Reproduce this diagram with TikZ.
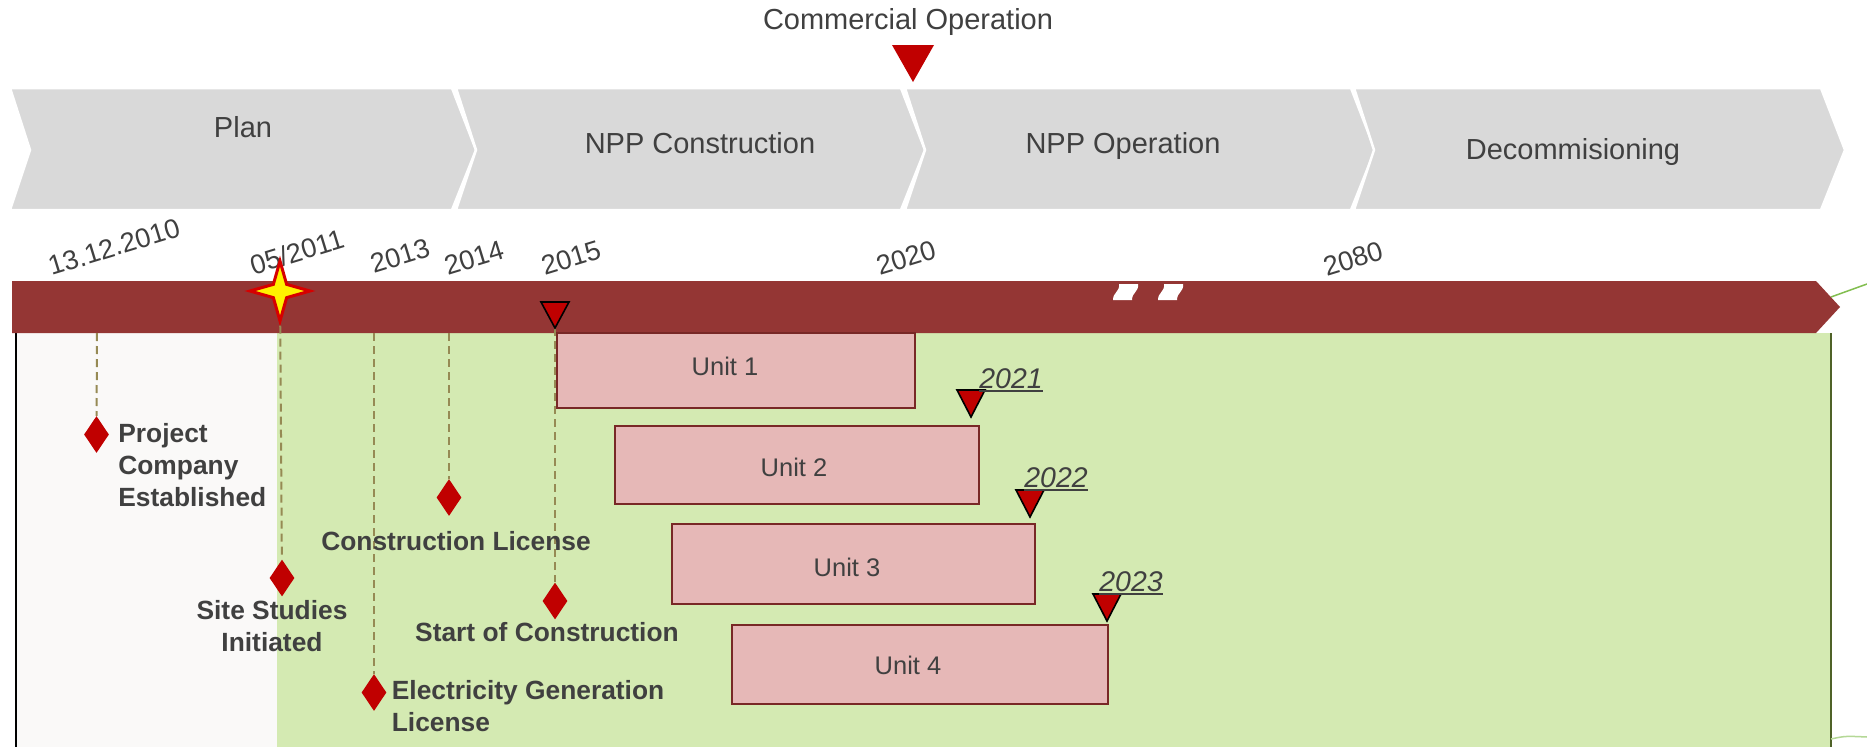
\documentclass[tikz,border=0pt]{standalone}
\usepackage{fontspec}
\setmainfont{Liberation Sans}
\usetikzlibrary{shapes.geometric}

\newlength{\dpx}
\setlength{\dpx}{0.02cm}

\definecolor{barred}{RGB}{148,54,52}
\definecolor{mred}{RGB}{192,0,0}
\definecolor{starred}{RGB}{214,0,0}
\definecolor{chevgray}{RGB}{217,217,217}
\definecolor{phasegreen}{RGB}{212,234,178}
\definecolor{edgegreen}{RGB}{79,98,40}
\definecolor{linegreen}{RGB}{130,190,80}
\definecolor{plangray}{RGB}{250,249,248}
\definecolor{unitpink}{RGB}{230,184,183}
\definecolor{unitborder}{RGB}{120,40,38}
\definecolor{guide}{RGB}{150,138,84}
\definecolor{txt}{RGB}{64,64,64}

\tikzset{
  chevron/.style={fill=chevgray, draw=white, line width=2.5\dpx, line join=miter},
  phase/.style={anchor=base, text=txt, inner sep=0, font=\fontsize{16.5}{19}\selectfont},
  datelabel/.style={text=txt, inner sep=0, rotate=17, font=\fontsize{15.5}{18}\selectfont},
  unitbox/.style={draw=unitborder, fill=unitpink, line width=2.2\dpx},
  unittext/.style={text=txt, inner sep=0, font=\fontsize{14.5}{17}\selectfont},
  milestone/.style={diamond, fill=mred, inner sep=0, minimum width=25\dpx, minimum height=37\dpx},
  mlabel/.style={text=txt, inner sep=0, font=\bfseries\fontsize{15}{18.4}\selectfont},
  guideline/.style={draw=guide, line width=2\dpx, dash pattern=on 8\dpx off 5\dpx},
  datemark/.style={fill=mred, draw=black, line width=1.6\dpx, line join=miter},
  yearlabel/.style={anchor=base west, text=txt, inner sep=0, font=\itshape\fontsize{16.2}{19}\selectfont},
  yearline/.style={draw=txt, line width=2.3\dpx},
}

\begin{document}
\begin{tikzpicture}[x=\dpx, y=-\dpx]
  \useasboundingbox (0,0) rectangle (1867,747);
  \fill[white] (0,0) rectangle (1867,747);

  % areas below the time bar
  \fill[plangray] (16,333) rectangle (277,747);
  \fill[phasegreen] (277,333) rectangle (1831,747);
  \draw[black, line width=2\dpx] (16,333) -- (16,747);
  \draw[edgegreen, line width=1.5\dpx] (1831,333) -- (1831,747);
  \draw[linegreen, line width=1.5\dpx] (1831,297) -- (1867,284);
  \draw[linegreen!60, line width=1.5\dpx] (1831,739) .. controls (1845,736) .. (1867,737);

  % phases
  \foreach \s/\e in {10/452, 456/901, 905/1351, 1354/1821}
    \draw[chevron] (\s,88) -- (\e,88) -- (\e+24,150) -- (\e,210) -- (\s,210) -- (\s+20,150) -- cycle;
  \node[phase] (plan) at (243,137) {Plan};
  \node[phase] (constr) at (700,153) {NPP Construction};
  \node[phase] (oper) at (1123,153) {NPP Operation};
  \node[phase] (decom) at (1573,159) {Decommisioning};

  \node[phase] (comm) at (908,30) {Commercial Operation};
  \fill[mred] (913,82) -- (892,45) -- (934,45) -- cycle;

  % time bar
  \fill[barred] (12,281) -- (1816,281) -- (1840,307) -- (1816,333) -- (12,333) -- cycle;
  \foreach \dx in {0,45}
    \fill[white] (1113+\dx,300) .. controls (1113+\dx,292) and (1120+\dx,292) .. (1119+\dx,284)
      -- (1138+\dx,284) .. controls (1139+\dx,292) and (1132+\dx,292) .. (1132+\dx,300) -- cycle;

  \node[datelabel] (d2010) at (114,247) {13.12.2010};
  \node[datelabel] (d2011) at (297,252) {05/2011};
  \node[datelabel] (d2013) at (400,256) {2013};
  \node[datelabel] (d2014) at (474,258) {2014};
  \node[datelabel] (d2015) at (571,258) {2015};
  \node[datelabel] (d2020) at (906,258) {2020};
  \node[datelabel] (d2080) at (1353,259) {2080};

  % units
  \node[unitbox, minimum width=358\dpx, minimum height=75\dpx] (u1) at (736,370.5) {};
  \node[unitbox, minimum width=364\dpx, minimum height=78\dpx] (u2) at (797,465) {};
  \node[unitbox, minimum width=363\dpx, minimum height=80\dpx] (u3) at (853.5,564) {};
  \node[unitbox, minimum width=376\dpx, minimum height=79\dpx] (u4) at (920,664.5) {};
  \node[unittext] (u1t) at (725,366) {Unit 1};
  \node[unittext] (u2t) at (794,467) {Unit 2};
  \node[unittext] (u3t) at (847,567) {Unit 3};
  \node[unittext] (u4t) at (908,665) {Unit 4};

  % milestones
  \coordinate (t2010) at (97,333);
  \coordinate (t2013) at (374,333);
  \coordinate (t2014) at (449,333);
  \coordinate (t2015) at (555,328);

  \node[milestone] (pc) at (96.5,434.5) {};
  \node[milestone] (ss) at (282,578) {};
  \node[milestone] (eg) at (374,692.5) {};
  \node[milestone] (cl) at (449,497.5) {};
  \node[milestone] (sc) at (555,601) {};

  \node[star, star points=4, star point ratio=3.2, minimum size=60\dpx, inner sep=0,
    fill=yellow, draw=starred, line width=3\dpx] (site) at (280,291) {};

  \draw[guideline] (t2010) -- (pc);
  \draw[guideline] (site) -- (ss);
  \draw[guideline] (t2013) -- (eg);
  \draw[guideline] (t2014) -- (cl);
  \draw[guideline] (t2015) -- (sc);

  \node[mlabel, anchor=west, align=left] (pcl) at (118,465) {Project\\Company\\Established};
  \node[mlabel, anchor=base] (cll) at (456,550) {Construction License};
  \node[mlabel, align=center] (ssl) at (272,626) {Site Studies\\Initiated};
  \node[mlabel, anchor=base] (scl) at (547,641.7) {Start of Construction};
  \node[mlabel, anchor=west, align=left] (egl) at (391.5,706) {Electricity Generation\\License};

  % start of construction and grid dates
  \draw[datemark] (t2015) -- ++(-14,-26) -- ++(28,0) -- cycle;
  \foreach \x/\y in {971/417, 1030/517, 1107/621}
    \draw[datemark] (\x,\y) -- ++(-14,-27) -- ++(28,0) -- cycle;

  \node[yearlabel] (y2021) at (979,388) {2021};
  \node[yearlabel] (y2022) at (1024,487) {2022};
  \node[yearlabel] (y2023) at (1099,591) {2023};
  \foreach \y in {y2021, y2022, y2023}
    \draw[yearline] ([shift={(0,3)}]\y.base west) -- ([shift={(0,3)}]\y.base east);
\end{tikzpicture}
\end{document}
